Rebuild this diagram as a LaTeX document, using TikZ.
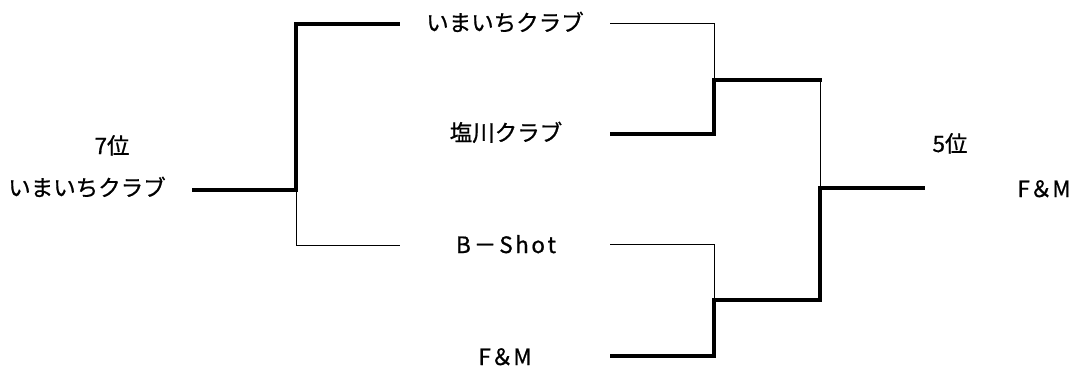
\documentclass[tikz,border=0pt]{standalone}
\usepackage{fontspec}
\setmainfont[FakeBold=0.8]{Noto Sans CJK JP}
\begin{document}
\begin{tikzpicture}[x=1pt,y=-1pt,
  lbl/.style={anchor=base,inner sep=0pt,font=\fontsize{22.5}{24}\selectfont},
  thick line/.style={line width=4.8pt,line cap=rect,line join=miter},
  thin line/.style={line width=1pt}]
\useasboundingbox (0,0) rectangle (1078,372);
% labels
\node[lbl] (r7) at (112,154) {7位};
\node[lbl] (L)  at (87,196) {いまいちクラブ};
\node[lbl] (m1) at (505,31) {いまいちクラブ};
\node[lbl] (m2) at (506,141) {塩川クラブ};
\node[lbl] (m3) at (506,253) {B\kern3pt－\kern3pt S\kern2.5pt h\kern2.5pt o\kern2.5pt t};
\node[lbl] (m4) at (505,365) {F＆M};
\node[lbl] (r5) at (950,152) {5位};
\node[lbl] (R)  at (1044,197) {F＆M};
% joints
\coordinate (a0) at (194,190);
\coordinate (a1) at (296,190);
\coordinate (a2) at (296,24);
\coordinate (a3) at (398,24);
\coordinate (a4) at (296,245);
\coordinate (a5) at (400,245);
\coordinate (b1s) at (610,23);
\coordinate (b1) at (714,23);
\coordinate (b2s) at (612,134);
\coordinate (b2) at (714,134);
\coordinate (bt) at (714,80);
\coordinate (ct) at (820,80);
\coordinate (cm) at (820,188);
\coordinate (ce) at (923,188);
\coordinate (cb) at (820,300);
\coordinate (bb) at (714,300);
\coordinate (b3s) at (610,244);
\coordinate (b3) at (714,244);
\coordinate (b4s) at (612,356);
\coordinate (b4) at (714,356);
% left bracket
\draw[thick line] (a0) -- (a1) -- (a2) -- (a3);
\draw[thin line] (a1) -- (a4) -- (a5);
% upper right pair
\draw[thin line] (b1s) -- (b1) -- (bt);
\draw[thick line] (b2s) -- (b2) -- (bt) -- (ct);
% final
\draw[thin line] (ct) -- (cm);
\draw[thick line] (ce) -- (cm) -- (cb) -- (bb);
% lower right pair
\draw[thin line] (b3s) -- (b3) -- (bb);
\draw[thick line] (bb) -- (b4) -- (b4s);
\end{tikzpicture}
\end{document}
